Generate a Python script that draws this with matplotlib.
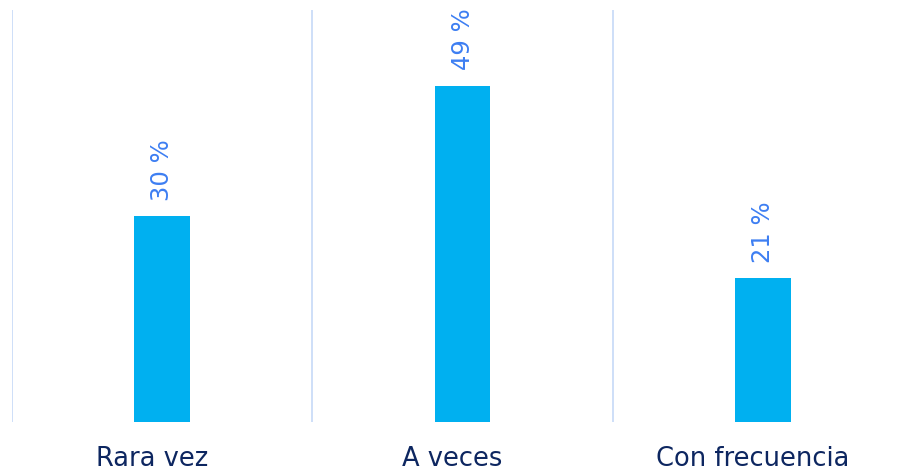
import matplotlib
matplotlib.use("Agg")
import matplotlib.pyplot as plt
from matplotlib.transforms import ScaledTranslation

categories = ["Rara vez", "A veces", "Con frecuencia"]
values = [30, 49, 21]
value_labels = ["30 %", "49 %", "21 %"]

plt.rcParams['font.family'] = ['DejaVu Sans']

fig = plt.figure(figsize=(9.11, 4.76), dpi=100)
ax = fig.add_axes([12 / 911, 54 / 476, 901 / 911, 412 / 476])

x = range(len(categories))
bars = ax.bar(x, values, width=0.185, color="#00B0F0", zorder=2)

for b, lab in zip(bars, value_labels):
    ax.annotate(lab, (b.get_x() + b.get_width() / 2, b.get_height()),
                xytext=(0, 11), textcoords="offset points",
                rotation=90, ha="center", va="bottom",
                fontsize=17.5, color="#3D7EF2")

ax.set_xlim(-0.5, 2.5)
ax.set_ylim(0, 60)
for gx in [-0.5, 0.5, 1.5, 2.5]:
    ax.axvline(gx, color="#C6D9F7", linewidth=1.2, zorder=1)

ax.set_xticks(list(x))
ax.set_xticklabels(categories, fontsize=18.5, color="#0D2660")
ax.tick_params(axis="x", length=0, pad=17)
shift = ScaledTranslation(-10 / 100, 0, fig.dpi_scale_trans)
for t in ax.get_xticklabels():
    t.set_transform(t.get_transform() + shift)
ax.set_yticks([])
for s in ax.spines.values():
    s.set_visible(False)

fig.savefig("out.png", dpi=100)
